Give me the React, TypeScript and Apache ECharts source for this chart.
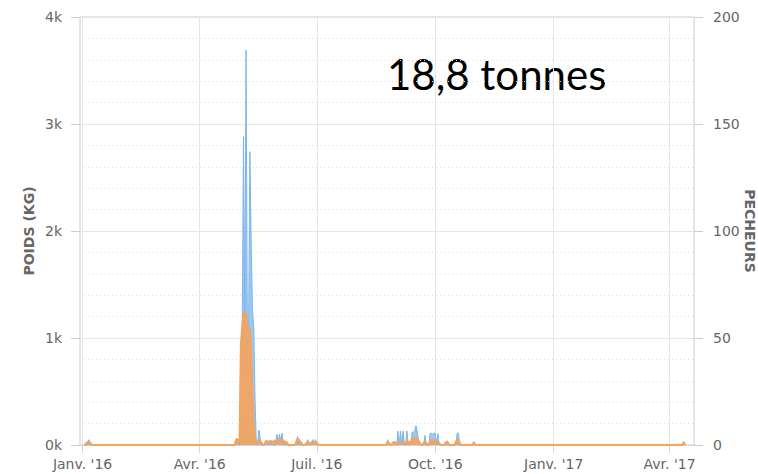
import React, { useEffect, useRef } from "react";
import * as echarts from "echarts";

// Range of daily records
const firstDay = "2016-01-02";
const lastDay = "2017-04-13";

// Non-zero daily catch weight (kg); other days are 0
const poidsKg: [string, number][] = [
  ["2016-01-05", 30], ["2016-01-06", 50],
  ["2016-04-29", 30], ["2016-04-30", 50],
  ["2016-05-03", 950], ["2016-05-04", 1000], ["2016-05-05", 2880], ["2016-05-06", 1200],
  ["2016-05-07", 3690], ["2016-05-08", 1050], ["2016-05-09", 1100], ["2016-05-10", 2740],
  ["2016-05-11", 1880], ["2016-05-12", 1250], ["2016-05-13", 1100], ["2016-05-14", 420],
  ["2016-05-17", 140], ["2016-05-18", 60], ["2016-05-23", 20], ["2016-05-26", 30],
  ["2016-05-31", 100], ["2016-06-01", 40], ["2016-06-02", 100], ["2016-06-03", 40],
  ["2016-06-04", 110], ["2016-06-16", 80], ["2016-06-24", 50], ["2016-06-28", 50],
  ["2016-06-30", 50],
  ["2016-08-25", 50], ["2016-09-02", 130], ["2016-09-04", 130], ["2016-09-06", 130],
  ["2016-09-09", 130], ["2016-09-13", 120], ["2016-09-14", 120], ["2016-09-15", 130],
  ["2016-09-16", 180], ["2016-09-17", 130], ["2016-09-18", 40], ["2016-09-23", 90],
  ["2016-09-27", 110], ["2016-09-28", 110], ["2016-09-29", 100], ["2016-09-30", 110],
  ["2016-10-01", 110], ["2016-10-03", 110], ["2016-10-18", 110], ["2016-10-19", 110],
];

// Non-zero daily number of fishers; other days are 0
const pecheurs: [string, number][] = [
  ["2016-01-04", 1], ["2016-01-05", 1.5], ["2016-01-06", 1.5], ["2016-01-07", 1],
  ["2016-04-29", 2], ["2016-04-30", 3], ["2016-05-01", 1], ["2016-05-02", 3],
  ["2016-05-03", 47], ["2016-05-04", 55], ["2016-05-05", 62], ["2016-05-06", 61],
  ["2016-05-07", 62], ["2016-05-08", 53], ["2016-05-09", 55], ["2016-05-10", 54],
  ["2016-05-11", 40], ["2016-05-12", 22], ["2016-05-13", 8], ["2016-05-14", 2],
  ["2016-05-15", 1], ["2016-05-16", 2], ["2016-05-17", 2.5], ["2016-05-18", 2], ["2016-05-19", 1],
  ["2016-05-22", 1.5], ["2016-05-23", 2], ["2016-05-24", 1.5], ["2016-05-25", 1.5],
  ["2016-05-26", 2], ["2016-05-27", 1.5], ["2016-05-28", 1.5], ["2016-05-29", 2],
  ["2016-05-30", 2], ["2016-05-31", 2.5], ["2016-06-01", 2.5], ["2016-06-02", 2.5],
  ["2016-06-03", 2], ["2016-06-04", 2.5], ["2016-06-05", 2], ["2016-06-06", 1.5],
  ["2016-06-07", 1.5], ["2016-06-08", 1],
  ["2016-06-15", 1.5], ["2016-06-16", 2.8], ["2016-06-17", 2.5], ["2016-06-18", 1.5], ["2016-06-19", 1],
  ["2016-06-23", 1], ["2016-06-24", 1.5], ["2016-06-25", 1],
  ["2016-06-27", 1.5], ["2016-06-28", 1.5], ["2016-06-29", 1], ["2016-06-30", 1.5], ["2016-07-01", 1],
  ["2016-08-25", 1.5], ["2016-08-26", 1], ["2016-08-29", 1], ["2016-08-30", 1.5], ["2016-08-31", 1],
  ["2016-09-02", 1.5], ["2016-09-03", 1], ["2016-09-04", 1], ["2016-09-05", 1.5], ["2016-09-06", 1.5],
  ["2016-09-07", 1], ["2016-09-09", 2], ["2016-09-10", 1.5], ["2016-09-12", 2], ["2016-09-13", 3],
  ["2016-09-14", 3], ["2016-09-15", 3.3], ["2016-09-16", 3.3], ["2016-09-17", 3], ["2016-09-18", 2],
  ["2016-09-19", 1], ["2016-09-22", 1], ["2016-09-23", 1.5], ["2016-09-24", 1], ["2016-09-27", 2],
  ["2016-09-28", 2.3], ["2016-09-29", 2], ["2016-09-30", 2.3], ["2016-10-01", 2], ["2016-10-02", 1.5],
  ["2016-10-03", 1.5], ["2016-10-04", 1], ["2016-10-09", 1], ["2016-10-10", 1.6], ["2016-10-11", 1],
  ["2016-10-17", 1.5], ["2016-10-18", 2.5], ["2016-10-19", 2.5], ["2016-10-20", 1], ["2016-10-31", 1.5],
  ["2017-04-12", 1.5],
];

const monthNames = ["Janv.", "Févr.", "Mars", "Avr.", "Mai", "Juin", "Juil.", "Août", "Sept.", "Oct.", "Nov.", "Déc."];
const totalLabel = "18,8 tonnes";
const leftAxisName = "POIDS (KG)";
const rightAxisName = "PECHEURS";

const DAY = 86400000;
const toTs = (s: string) => {
  const [y, m, d] = s.split("-").map(Number);
  return Date.UTC(y, m - 1, d);
};

function dailySeries(entries: [string, number][]): [number, number][] {
  const map = new Map<number, number>();
  entries.forEach(([d, v]) => map.set(toTs(d), v));
  const out: [number, number][] = [];
  for (let t = toTs(firstDay); t <= toTs(lastDay); t += DAY) {
    out.push([t, map.get(t) ?? 0]);
  }
  return out;
}

export default function App() {
  const ref = useRef<HTMLDivElement>(null);
  useEffect(() => {
    if (!ref.current) return;
    const chart = echarts.init(ref.current, undefined, { renderer: "svg" });
    const font = "DejaVu Sans";
    chart.setOption({
      animation: false,
      useUTC: true,
      grid: {
        left: 80, right: 64, top: 17, bottom: 29,
        show: true, borderColor: "#cccccc", borderWidth: 1,
        containLabel: false, outerBoundsMode: "none",
      },
      xAxis: {
        type: "time",
        min: Date.UTC(2015, 11, 30),
        max: Date.UTC(2017, 3, 20),
        splitNumber: 5,
        axisLine: { show: true, lineStyle: { color: "#ccd6eb" } },
        axisTick: { show: true, length: 8, lineStyle: { color: "#ccd6eb" } },
        splitLine: { show: true, lineStyle: { color: "#e6e6e6" } },
        axisLabel: {
          color: "#666",
          fontSize: 14,
          fontFamily: font,
          margin: 12,
          showMinLabel: false,
          showMaxLabel: false,
          formatter: (v: number) => {
            const d = new Date(v);
            return monthNames[d.getUTCMonth()] + " '" + String(d.getUTCFullYear()).slice(2);
          },
        },
      },
      yAxis: [
        {
          type: "value",
          position: "left",
          min: 0,
          max: 4000,
          interval: 1000,
          name: leftAxisName,
          nameLocation: "middle",
          nameGap: 44,
          nameMoveOverlap: false,
          nameTextStyle: { color: "#666", fontWeight: "bold", fontSize: 14, fontFamily: font },
          axisLine: { show: false },
          axisTick: { show: true, length: 9, lineStyle: { color: "#cccccc" } },
          axisLabel: { color: "#666", fontSize: 14, fontFamily: font, margin: 18, formatter: (v: number) => v / 1000 + "k" },
          splitLine: { show: true, lineStyle: { color: "#e6e6e6" } },
          minorTick: { show: false, splitNumber: 5 },
          minorSplitLine: { show: true, lineStyle: { color: "#e0e0e0", type: [1, 3] } },
        },
        {
          type: "value",
          position: "right",
          min: 0,
          max: 200,
          interval: 50,
          name: rightAxisName,
          nameLocation: "middle",
          nameGap: 49,
          nameRotate: -90,
          nameMoveOverlap: false,
          nameTextStyle: { color: "#666", fontWeight: "bold", fontSize: 14, fontFamily: font },
          axisLine: { show: false },
          axisTick: { show: true, length: 9, lineStyle: { color: "#cccccc" } },
          axisLabel: { color: "#666", fontSize: 14, fontFamily: font, margin: 19 },
          splitLine: { show: false },
        },
      ],
      series: [
        {
          name: "Poids",
          type: "line",
          yAxisIndex: 0,
          data: dailySeries(poidsKg),
          showSymbol: false,
          symbol: "none",
          lineStyle: { color: "#7cb5ec", width: 1 },
          itemStyle: { color: "#7cb5ec" },
          areaStyle: { color: "#7cb5ec", opacity: 0.75 },
        },
        {
          name: "Pêcheurs",
          type: "line",
          yAxisIndex: 1,
          data: dailySeries(pecheurs),
          showSymbol: false,
          symbol: "none",
          lineStyle: { color: "#f7a35c", width: 2 },
          itemStyle: { color: "#f7a35c" },
          areaStyle: { color: "#f7a35c", opacity: 0.9 },
        },
      ],
      graphic: [
        {
          type: "text",
          left: 387,
          top: 53,
          style: { text: totalLabel, fontSize: 42, fontFamily: "Lato", fill: "#000" },
        },
      ],
    });
    return () => chart.dispose();
  }, []);
  return <div ref={ref} style={{ width: 758, height: 474, position: "absolute", left: 0, top: 0 }} />;
}
